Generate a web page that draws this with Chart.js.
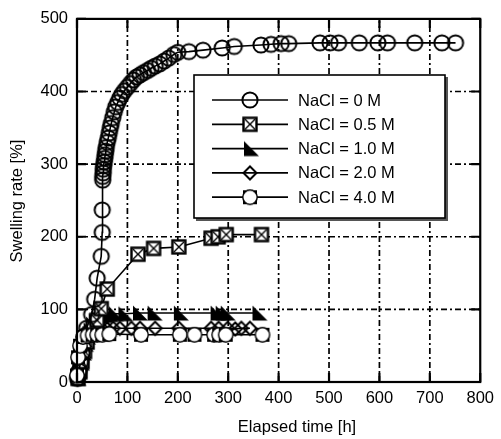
<!DOCTYPE html>
<html>
<head>
<meta charset="utf-8">
<script src="https://cdn.jsdelivr.net/npm/chart.js@4.4.1/dist/chart.umd.min.js"></script>
<style>
  html, body { margin: 0; padding: 0; background: #fff; }
</style>
</head>
<body>
<canvas id="swell" width="501" height="439"></canvas>
<script>
// Swelling rate vs elapsed time, one series per NaCl concentration
const seriesLabels = ['NaCl = 0 M', 'NaCl = 0.5 M', 'NaCl = 1.0 M', 'NaCl = 2.0 M', 'NaCl = 4.0 M'];

// [elapsed time h, swelling rate %]
const nacl00 = [[1, 5], [4, 15], [7, 28], [10, 40], [13, 52], [16, 64], [19, 74], [29, 93], [35, 114],
  [40, 143], [48, 173], [50, 206], [50, 237], [51, 278], [51, 283], [52, 288], [52, 293], [53, 298],
  [54, 303], [55, 308], [56, 313], [57, 318], [58, 323], [60, 330], [62, 336], [64, 343], [66, 350],
  [68, 356], [71, 364], [74, 372], [77, 379], [81, 385], [85, 391], [89, 396], [94, 401], [100, 406],
  [106, 411], [112, 416], [118, 420], [125, 423], [132, 426], [140, 429], [147, 432], [155, 435],
  [164, 438], [173, 442], [182, 446], [192, 451], [200, 454], [222, 455], [250, 457], [288, 460],
  [312, 462], [365, 464], [385, 465], [405, 466], [420, 466], [482, 467], [502, 467], [519, 467],
  [560, 467], [597, 467], [616, 467], [670, 467], [724, 467], [751, 467]];
const nacl05 = [[2, 5], [6, 15], [10, 28], [15, 42], [20, 55], [26, 66], [32, 75], [40, 85], [48, 101],
  [60, 128], [121, 176], [152, 184], [202, 186], [266, 198], [280, 200], [296, 203], [366, 203]];
const nacl10 = [[1, 5], [4, 14], [8, 26], [12, 40], [16, 52], [20, 62], [25, 72], [30, 80], [35, 85],
  [40, 88], [47, 91], [55, 92], [65, 93], [75, 94], [94, 94], [123, 95], [152, 95], [204, 95],
  [277, 95], [287, 95], [297, 95], [360, 95]];
const nacl20 = [[1, 4], [4, 12], [8, 24], [12, 36], [16, 48], [20, 56], [25, 63], [30, 67], [36, 70],
  [42, 72], [50, 73], [60, 73], [72, 74], [85, 74], [108, 74], [125, 74], [155, 74], [202, 74],
  [266, 74], [281, 74], [299, 74], [314, 73], [326, 74], [343, 74]];
const nacl40 = [[0, 9], [2, 34], [6, 50], [12, 62], [21, 64], [31, 65], [40, 65], [50, 65], [64, 66],
  [127, 65], [204, 65], [233, 65], [272, 65], [282, 65], [295, 65], [368, 65]];

const xTickValues = [0, 100, 200, 300, 400, 500, 600, 700, 800];
const yTickValues = [0, 100, 200, 300, 400, 500];

const FONT = "'Liberation Sans', Arial, sans-serif";
const FONT_SIZE = 16.5;

function makeMarker(size, draw) {
  const c = document.createElement('canvas');
  c.width = size;
  c.height = size;
  const g = c.getContext('2d');
  g.translate(size / 2, size / 2);
  draw(g);
  return c;
}

// open circle
const markCircle = makeMarker(22, g => {
  g.lineWidth = 2;
  g.strokeStyle = '#000';
  g.beginPath();
  g.arc(0, 0, 7.6, 0, Math.PI * 2);
  g.stroke();
});

// square with a cross inside
const markSquareX = makeMarker(22, g => {
  g.fillStyle = '#fff';
  g.fillRect(-6.5, -6.5, 13, 13);
  g.strokeStyle = '#000';
  g.lineWidth = 2.4;
  g.strokeRect(-6.5, -6.5, 13, 13);
  g.lineWidth = 1.4;
  g.beginPath();
  g.moveTo(-5, -5); g.lineTo(5, 5);
  g.moveTo(5, -5); g.lineTo(-5, 5);
  g.stroke();
});

// filled right triangle
const markTriangle = makeMarker(24, g => {
  g.fillStyle = '#000';
  g.beginPath();
  g.moveTo(-6, -7.5);
  g.lineTo(-6, 7.5);
  g.lineTo(9, 7.5);
  g.closePath();
  g.fill();
});

// open diamond
const markDiamond = makeMarker(20, g => {
  g.strokeStyle = '#000';
  g.lineWidth = 2;
  g.beginPath();
  g.moveTo(0, -6.5);
  g.lineTo(6.5, 0);
  g.lineTo(0, 6.5);
  g.lineTo(-6.5, 0);
  g.closePath();
  g.stroke();
});

// white circle on a black square
const markCircleSquare = makeMarker(22, g => {
  g.fillStyle = '#000';
  g.fillRect(-7, -7, 14, 14);
  g.fillStyle = '#fff';
  g.beginPath();
  g.arc(0, 0, 7.2, 0, Math.PI * 2);
  g.fill();
  g.strokeStyle = '#000';
  g.lineWidth = 1.4;
  g.stroke();
});

const markers = [markCircle, markSquareX, markTriangle, markDiamond, markCircleSquare];
const seriesData = [nacl00, nacl05, nacl10, nacl20, nacl40];
const drawOrder = [1, 2, 3, 4, 0];

const datasets = seriesData.map((rows, i) => ({
  label: seriesLabels[i],
  data: rows.map(([t, v]) => ({ x: t, y: v })),
  borderColor: '#000',
  borderWidth: 1.6,
  pointStyle: markers[i],
  pointRadius: 5,
  pointHoverRadius: 5,
  showLine: true,
  tension: 0,
  clip: false,
  order: drawOrder[i]
}));

// grid, frame, inner ticks, legend box and axis titles
const decor = {
  id: 'decor',
  beforeDatasetsDraw(chart) {
    const { ctx, chartArea: a, scales: { x, y } } = chart;
    ctx.save();
    ctx.strokeStyle = '#000';
    ctx.lineWidth = 1.7;
    ctx.setLineDash([6, 3, 2, 3]);
    xTickValues.slice(1, -1).forEach(v => {
      const px = x.getPixelForValue(v);
      ctx.beginPath();
      ctx.moveTo(px, a.bottom);
      ctx.lineTo(px, a.top);
      ctx.stroke();
    });
    yTickValues.slice(1, -1).forEach(v => {
      const py = y.getPixelForValue(v);
      ctx.beginPath();
      ctx.moveTo(a.left, py);
      ctx.lineTo(a.right, py);
      ctx.stroke();
    });
    ctx.restore();
  },
  afterDatasetsDraw(chart) {
    const { ctx, chartArea: a, scales: { x, y } } = chart;
    ctx.save();
    ctx.strokeStyle = '#000';
    ctx.lineWidth = 2.2;
    ctx.setLineDash([]);
    ctx.strokeRect(a.left, a.top, a.right - a.left, a.bottom - a.top);
    const len = 9;
    ctx.beginPath();
    xTickValues.forEach(v => {
      const px = x.getPixelForValue(v);
      ctx.moveTo(px, a.bottom); ctx.lineTo(px, a.bottom - len);
      ctx.moveTo(px, a.top); ctx.lineTo(px, a.top + len);
    });
    yTickValues.forEach(v => {
      const py = y.getPixelForValue(v);
      ctx.moveTo(a.left, py); ctx.lineTo(a.left + len, py);
      ctx.moveTo(a.right, py); ctx.lineTo(a.right - len, py);
    });
    ctx.stroke();
    ctx.restore();
  },
  afterDraw(chart) {
    const { ctx } = chart;
    ctx.save();

    // legend
    const bx = 194, by = 75, bw = 251, bh = 143;
    ctx.fillStyle = '#555';
    ctx.fillRect(bx + 2, by + 2, bw + 1, bh + 1);
    ctx.fillStyle = '#fff';
    ctx.fillRect(bx, by, bw, bh);
    ctx.strokeStyle = '#000';
    ctx.lineWidth = 1.6;
    ctx.strokeRect(bx, by, bw, bh);

    ctx.font = FONT_SIZE + 'px ' + FONT;
    ctx.fillStyle = '#000';
    ctx.textAlign = 'left';
    ctx.textBaseline = 'middle';
    seriesLabels.forEach((label, i) => {
      const ry = 100 + i * 24.3;
      ctx.lineWidth = 1.7;
      ctx.beginPath();
      ctx.moveTo(212, ry);
      ctx.lineTo(288, ry);
      ctx.stroke();
      const m = markers[i];
      ctx.drawImage(m, 250 - m.width / 2, ry - m.height / 2);
      ctx.fillText(label, 298, ry + 1);
    });

    // axis titles
    ctx.textAlign = 'center';
    ctx.fillText('Elapsed time [h]', 297, 427);
    ctx.translate(17, 201);
    ctx.rotate(-Math.PI / 2);
    ctx.fillText('Swelling rate [%]', 0, 0);
    ctx.restore();
  }
};

new Chart(document.getElementById('swell'), {
  type: 'scatter',
  data: { datasets },
  options: {
    responsive: false,
    animation: false,
    events: [],
    layout: { padding: { top: 9, right: 9, left: 0, bottom: 0 } },
    plugins: { legend: { display: false }, tooltip: { enabled: false } },
    scales: {
      x: {
        type: 'linear',
        min: 0,
        max: 800,
        afterBuildTicks: s => { s.ticks = xTickValues.map(v => ({ value: v })); },
        afterFit: s => { s.height = 57; },
        grid: { display: false, drawTicks: false },
        border: { display: false },
        ticks: { padding: 7, color: '#000', font: { family: FONT, size: FONT_SIZE }, maxRotation: 0 }
      },
      y: {
        type: 'linear',
        min: 0,
        max: 500,
        afterBuildTicks: s => { s.ticks = yTickValues.map(v => ({ value: v })); },
        afterFit: s => { s.width = 77; },
        grid: { display: false, drawTicks: false },
        border: { display: false },
        ticks: { padding: 9, color: '#000', font: { family: FONT, size: FONT_SIZE } }
      }
    }
  },
  plugins: [decor]
});
</script>
</body>
</html>
